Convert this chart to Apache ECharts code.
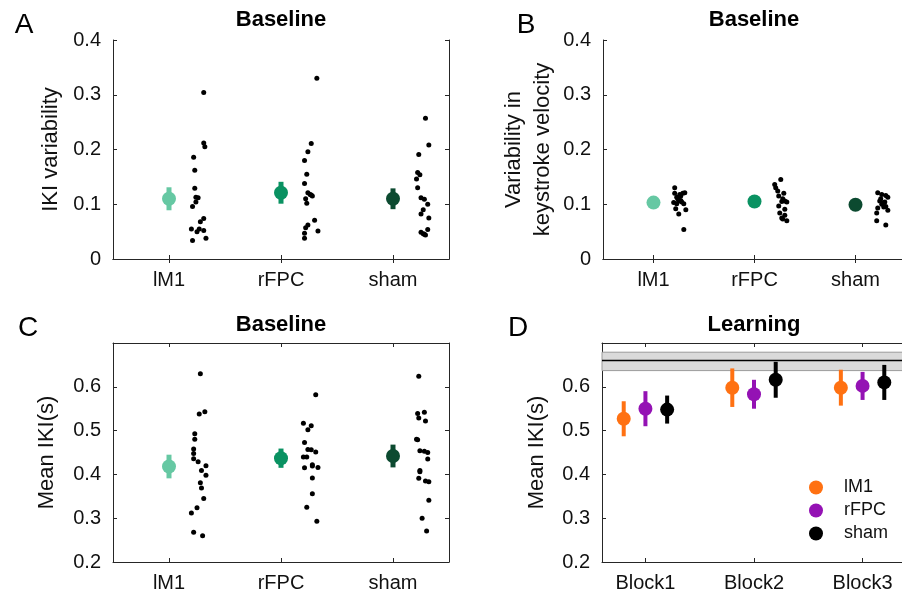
<!DOCTYPE html>
<html>
<head>
<meta charset="utf-8">
<script src="https://cdn.jsdelivr.net/npm/echarts@6/dist/echarts.min.js"></script>
<style>
  html, body { margin: 0; padding: 0; background: #fff; }
  #main { width: 902px; height: 595px; }
</style>
</head>
<body>
<div id="main"></div>
<script>
// groups / categories
var groups = ['lM1', 'rFPC', 'sham'];
var blocks = ['Block1', 'Block2', 'Block3'];

// A: IKI variability (baseline) - group means and error
var ikiVarMean = [0.110, 0.121, 0.110];
var ikiVarErr = [0.021, 0.020, 0.019];
// individual subjects: y values and jitter (category units)
var ikiVar_lM1 = [0.304, 0.212, 0.205, 0.186, 0.162, 0.129, 0.113, 0.112, 0.104, 0.096, 0.074, 0.068, 0.055, 0.055, 0.050, 0.052, 0.038, 0.034];
var ikiVar_lM1_dx = [0.31, 0.31, 0.32, 0.22, 0.23, 0.23, 0.24, 0.26, 0.24, 0.21, 0.31, 0.28, 0.20, 0.27, 0.25, 0.31, 0.33, 0.21];
var ikiVar_rFPC = [0.330, 0.211, 0.196, 0.180, 0.155, 0.138, 0.121, 0.118, 0.117, 0.115, 0.110, 0.102, 0.071, 0.062, 0.057, 0.047, 0.051, 0.038];
var ikiVar_rFPC_dx = [0.32, 0.27, 0.24, 0.21, 0.23, 0.21, 0.24, 0.26, 0.27, 0.28, 0.22, 0.23, 0.30, 0.24, 0.22, 0.21, 0.33, 0.21];
var ikiVar_sham = [0.257, 0.208, 0.191, 0.158, 0.154, 0.146, 0.130, 0.112, 0.109, 0.100, 0.090, 0.082, 0.075, 0.054, 0.049, 0.046, 0.044, 0.045];
var ikiVar_sham_dx = [0.29, 0.32, 0.23, 0.22, 0.24, 0.21, 0.22, 0.25, 0.28, 0.31, 0.27, 0.25, 0.32, 0.31, 0.25, 0.27, 0.29, 0.28];

// B: variability in keystroke velocity
var velVarMean = [0.103, 0.105, 0.099];
var velVarErr = [0.004, 0.005, 0.004];
var velVar_lM1 = [0.130, 0.120, 0.113, 0.118, 0.120, 0.121, 0.110, 0.107, 0.104, 0.103, 0.101, 0.092, 0.090, 0.082, 0.054, 0.115, 0.106, 0.101];
var velVar_lM1_dx = [0.21, 0.21, 0.23, 0.26, 0.29, 0.31, 0.24, 0.27, 0.28, 0.20, 0.30, 0.22, 0.32, 0.25, 0.30, 0.27, 0.25, 0.23];
var velVar_rFPC = [0.136, 0.145, 0.130, 0.124, 0.120, 0.115, 0.110, 0.106, 0.105, 0.104, 0.097, 0.091, 0.084, 0.080, 0.075, 0.070, 0.073];
var velVar_rFPC_dx = [0.20, 0.26, 0.21, 0.23, 0.29, 0.24, 0.28, 0.30, 0.27, 0.32, 0.24, 0.30, 0.25, 0.30, 0.27, 0.32, 0.28];
var velVar_sham = [0.121, 0.118, 0.116, 0.113, 0.106, 0.103, 0.100, 0.096, 0.095, 0.093, 0.089, 0.084, 0.070, 0.062, 0.110, 0.104];
var velVar_sham_dx = [0.22, 0.26, 0.30, 0.32, 0.24, 0.28, 0.26, 0.30, 0.28, 0.22, 0.32, 0.21, 0.21, 0.30, 0.25, 0.29];

// C: mean IKI (baseline)
var ikiMean = [0.418, 0.437, 0.442];
var ikiErr = [0.027, 0.022, 0.026];
var iki_lM1 = [0.630, 0.543, 0.538, 0.493, 0.480, 0.458, 0.448, 0.436, 0.429, 0.420, 0.409, 0.398, 0.381, 0.369, 0.345, 0.324, 0.312, 0.268, 0.260];
var iki_lM1_dx = [0.28, 0.32, 0.27, 0.23, 0.23, 0.22, 0.22, 0.22, 0.26, 0.33, 0.29, 0.33, 0.28, 0.29, 0.31, 0.25, 0.20, 0.22, 0.30];
var iki_rFPC = [0.582, 0.517, 0.511, 0.502, 0.473, 0.457, 0.456, 0.451, 0.440, 0.440, 0.422, 0.419, 0.415, 0.416, 0.392, 0.356, 0.325, 0.293];
var iki_rFPC_dx = [0.31, 0.20, 0.27, 0.24, 0.21, 0.24, 0.27, 0.31, 0.20, 0.23, 0.28, 0.28, 0.21, 0.33, 0.28, 0.28, 0.23, 0.32];
var iki_sham = [0.624, 0.539, 0.542, 0.529, 0.522, 0.480, 0.479, 0.454, 0.453, 0.450, 0.435, 0.409, 0.406, 0.391, 0.385, 0.383, 0.341, 0.300, 0.271];
var iki_sham_dx = [0.23, 0.22, 0.28, 0.23, 0.29, 0.21, 0.22, 0.24, 0.28, 0.31, 0.31, 0.24, 0.24, 0.23, 0.29, 0.32, 0.32, 0.26, 0.30];

// D: learning, mean IKI per block
var learn_lM1 = [0.527, 0.598, 0.598];
var learn_lM1_err = [0.040, 0.044, 0.041];
var learn_rFPC = [0.550, 0.583, 0.602];
var learn_rFPC_err = [0.040, 0.033, 0.032];
var learn_sham = [0.548, 0.616, 0.610];
var learn_sham_err = [0.032, 0.041, 0.040];
var groupOffset = [-0.2, 0, 0.2];
// reference band (mean and range)
var bandLine = 0.657;
var bandRange = [0.637, 0.679];

var groupColors = ['#66c8a3', '#0a9262', '#0c4a30'];
var learnColors = ['#ff7112', '#9412b4', '#000000'];
var FONT = 'Liberation Sans, Arial, Helvetica, sans-serif';
var AXC = '#262626';

var chart = echarts.init(document.getElementById('main'));

var grids = [
  { left: 113, top: 40, width: 336, height: 219 },
  { left: 603, top: 40, width: 303, height: 219 },
  { left: 113, top: 343, width: 336, height: 219 },
  { left: 602, top: 343, width: 304, height: 219 }
];
grids.forEach(function (g) { g.outerBoundsMode = 'none'; g.containLabel = false; });

var yTicks = [
  [0, 0.1, 0.2, 0.3, 0.4],
  [0, 0.1, 0.2, 0.3, 0.4],
  [0.2, 0.3, 0.4, 0.5, 0.6],
  [0.2, 0.3, 0.4, 0.5, 0.6]
];
var yRange = [[0, 0.4], [0, 0.4], [0.2, 0.7], [0.2, 0.7]];
var xRange = [[0.5, 3.5], [0.5, 3.5], [0.5, 3.5], [0.6, 3.4]];
var yNames = ['IKI variability', 'Variability in\nkeystroke velocity', 'Mean IKI(s)', 'Mean IKI(s)'];
var yNameGap = [48, 46, 52, 51];

var xAxes = [], yAxes = [];
for (var i = 0; i < 4; i++) {
  var labels = i === 3 ? blocks : groups;
  var line = { show: true, lineStyle: { color: AXC, width: 1 } };
  xAxes.push({
    type: 'value', gridIndex: i, position: 'bottom', min: xRange[i][0], max: xRange[i][1],
    axisLine: line, splitLine: { show: false },
    axisTick: { inside: true, length: 4, lineStyle: { color: AXC }, customValues: [1, 2, 3] },
    axisLabel: {
      customValues: [1, 2, 3], margin: 11, color: '#111', fontSize: 20, fontFamily: FONT,
      formatter: (function (lab) { return function (v) { return lab[Math.round(v) - 1] || ''; }; })(labels)
    }
  });
  xAxes.push({
    type: 'value', gridIndex: i, position: 'top', min: xRange[i][0], max: xRange[i][1],
    axisLine: line, splitLine: { show: false },
    axisTick: { inside: true, length: 4, lineStyle: { color: AXC }, customValues: [1, 2, 3] },
    axisLabel: { show: false }
  });
  yAxes.push({
    type: 'value', gridIndex: i, position: 'left', min: yRange[i][0], max: yRange[i][1],
    axisLine: line, splitLine: { show: false },
    axisTick: { inside: true, length: 4, lineStyle: { color: AXC }, customValues: yTicks[i] },
    axisLabel: { customValues: yTicks[i], margin: 12, color: '#111', fontSize: 20, fontFamily: FONT },
    name: yNames[i], nameLocation: 'middle', nameGap: yNameGap[i], nameRotate: 90,
    nameTextStyle: { color: '#111', fontSize: 22, fontFamily: FONT, lineHeight: 29 }
  });
  yAxes.push({
    type: 'value', gridIndex: i, position: 'right', min: yRange[i][0], max: yRange[i][1],
    axisLine: line, splitLine: { show: false },
    axisTick: { inside: true, length: 4, lineStyle: { color: AXC }, customValues: yTicks[i] },
    axisLabel: { show: false }
  });
}

function ptsSeries(gi, cat, ys, dxs) {
  return {
    type: 'scatter', name: 'pts' + gi + '_' + cat, xAxisIndex: 2 * gi, yAxisIndex: 2 * gi,
    symbolSize: 5, itemStyle: { color: '#000', opacity: 1 }, z: 3,
    data: ys.map(function (v, k) { return [cat + dxs[k], v]; })
  };
}
function errSeries(gi, name, xs, means, errs, color, width) {
  return {
    type: 'custom', name: name, xAxisIndex: 2 * gi, yAxisIndex: 2 * gi, z: 4,
    data: means.map(function (m, k) { return [xs[k], m - errs[k], m + errs[k]]; }),
    encode: { x: 0, y: [1, 2] },
    renderItem: function (params, api) {
      var a = api.coord([api.value(0), api.value(1)]);
      var b = api.coord([api.value(0), api.value(2)]);
      return { type: 'line', shape: { x1: a[0], y1: a[1], x2: b[0], y2: b[1] },
        style: { stroke: color, lineWidth: width } };
    }
  };
}
function meanSeries(gi, name, pts, color, size) {
  return {
    type: 'scatter', name: name, xAxisIndex: 2 * gi, yAxisIndex: 2 * gi,
    symbolSize: size, itemStyle: { color: color, opacity: 1 }, z: 5, data: pts
  };
}

var series = [];
var baseSets = [
  { mean: ikiVarMean, err: ikiVarErr, pts: [[ikiVar_lM1, ikiVar_lM1_dx], [ikiVar_rFPC, ikiVar_rFPC_dx], [ikiVar_sham, ikiVar_sham_dx]] },
  { mean: velVarMean, err: velVarErr, pts: [[velVar_lM1, velVar_lM1_dx], [velVar_rFPC, velVar_rFPC_dx], [velVar_sham, velVar_sham_dx]] },
  { mean: ikiMean, err: ikiErr, pts: [[iki_lM1, iki_lM1_dx], [iki_rFPC, iki_rFPC_dx], [iki_sham, iki_sham_dx]] }
];
baseSets.forEach(function (s, gi) {
  for (var c = 0; c < 3; c++) {
    series.push(ptsSeries(gi, c + 1, s.pts[c][0], s.pts[c][1]));
    series.push(errSeries(gi, 'err' + gi + '_' + c, [c + 1], [s.mean[c]], [s.err[c]], groupColors[c], 5));
    series.push(meanSeries(gi, 'mean' + gi + '_' + c, [[c + 1, s.mean[c]]], groupColors[c], 14));
  }
});

// panel D
var learnMeans = [learn_lM1, learn_rFPC, learn_sham];
var learnErrs = [learn_lM1_err, learn_rFPC_err, learn_sham_err];
series.push({
  type: 'scatter', name: 'band', xAxisIndex: 6, yAxisIndex: 6, data: [], silent: true,
  markArea: {
    silent: true,
    itemStyle: { color: '#dadada', borderColor: '#9a9a9a', borderWidth: 1 },
    data: [[{ yAxis: bandRange[0] }, { yAxis: bandRange[1] }]]
  },
  markLine: {
    silent: true, symbol: 'none', label: { show: false },
    lineStyle: { color: '#000', width: 1.3, type: 'solid' },
    data: [{ yAxis: bandLine }]
  }
});
for (var g = 0; g < 3; g++) {
  var xs = [1, 2, 3].map(function (b) { return b + groupOffset[g]; });
  series.push(errSeries(3, 'lerr' + g, xs, learnMeans[g], learnErrs[g], learnColors[g], 4));
  series.push(meanSeries(3, groups[g], xs.map(function (x, k) { return [x, learnMeans[g][k]]; }), learnColors[g], 14));
}

function txt(x, y, s, size, bold) {
  return { type: 'text', x: x, y: y, style: { text: s, fontSize: size, fontWeight: bold ? 'bold' : 'normal',
    fontFamily: FONT, fill: '#000', align: 'center', verticalAlign: 'middle' } };
}

chart.setOption({
  backgroundColor: '#fff',
  animation: false,
  grid: grids,
  xAxis: xAxes,
  yAxis: yAxes,
  legend: {
    data: groups, orient: 'vertical', left: 804, top: 473,
    itemWidth: 14, itemHeight: 14, itemGap: 4, icon: 'circle',
    textStyle: { fontSize: 18, fontFamily: FONT, color: '#111', padding: [0, 0, 0, 16], lineHeight: 19 }
  },
  graphic: [
    txt(24, 25, 'A', 28), txt(526, 25, 'B', 28), txt(28, 328, 'C', 28), txt(518, 328, 'D', 28),
    txt(281, 20, 'Baseline', 22, true), txt(754, 20, 'Baseline', 22, true),
    txt(281, 325, 'Baseline', 22, true), txt(754, 325, 'Learning', 22, true)
  ],
  series: series
});
</script>
</body>
</html>
